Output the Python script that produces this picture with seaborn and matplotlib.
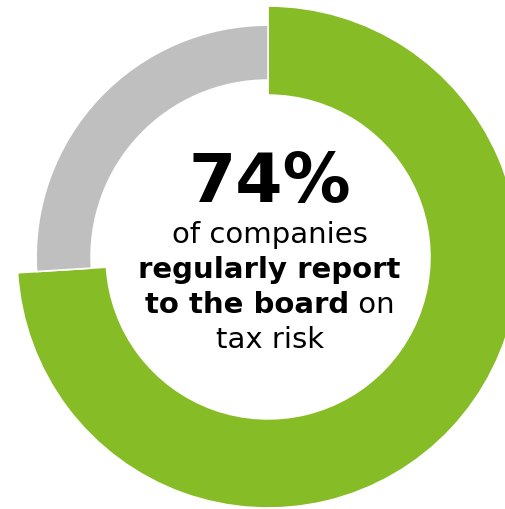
import matplotlib
matplotlib.use("Agg")

import matplotlib.pyplot as plt
import seaborn as sns

# Data
segments = ["Regularly report to the board", "Other"]
shares = [74, 26]
headline = "74%"
line_regular_1 = "of companies"
line_bold_2 = "regularly report"
line_bold_3 = "to the board"
line_regular_3 = " on"
line_regular_4 = "tax risk"

GREEN = "#86BC25"
GREY = "#BFBFBF"
TEXT = "#000000"

sns.set_theme(style="white")
plt.rcParams["font.family"] = ["DejaVu Sans"]

fig = plt.figure(figsize=(5.05, 5.10), dpi=100)
ax = fig.add_axes([0, 0, 1, 1])

# outer (green) ring
outer, _ = ax.pie(
    shares, radius=1.0, startangle=90, counterclock=False,
    colors=[GREEN, GREY],
    wedgeprops=dict(width=0.355, edgecolor="white", linewidth=1.2),
)
outer[1].set_visible(False)

# inner (grey) ring, thinner
inner, _ = ax.pie(
    shares, radius=0.924, startangle=90, counterclock=False,
    colors=[GREEN, GREY],
    wedgeprops=dict(width=0.219, edgecolor="white", linewidth=1.2),
)
inner[0].set_visible(False)

ax.set_xlim(-1.068, 0.944)
ax.set_ylim(-1.004, 1.028)
ax.set_aspect("auto")
ax.axis("off")

cx = 0.006
ax.text(cx, 0.223, headline, ha="center", va="baseline",
        fontsize=49, fontweight="bold", color=TEXT)
ax.text(cx, 0.060, line_regular_1, ha="center", va="baseline",
        fontsize=21, color=TEXT)
ax.text(cx, -0.080, line_bold_2, ha="center", va="baseline",
        fontsize=21, fontweight="bold", color=TEXT)

# mixed bold / regular line, centred as a whole
y3 = -0.219
t_bold = ax.text(0, y3, line_bold_3, ha="left", va="baseline",
                 fontsize=21, fontweight="bold", color=TEXT)
t_reg = ax.text(0, y3, line_regular_3, ha="left", va="baseline",
                fontsize=21, color=TEXT)
renderer = fig.canvas.get_renderer()
w_bold = t_bold.get_window_extent(renderer).width
w_reg = t_reg.get_window_extent(renderer).width
cx_px = ax.transData.transform((cx, y3))[0]
left_px = cx_px - (w_bold + w_reg) / 2
inv = ax.transData.inverted()
x_bold = inv.transform((left_px, 0))[0]
x_reg = inv.transform((left_px + w_bold, 0))[0]
t_bold.set_x(x_bold)
t_reg.set_x(x_reg)

ax.text(cx, -0.359, line_regular_4, ha="center", va="baseline",
        fontsize=21, color=TEXT)

fig.savefig("out.png", dpi=100, facecolor="white")
plt.close(fig)
